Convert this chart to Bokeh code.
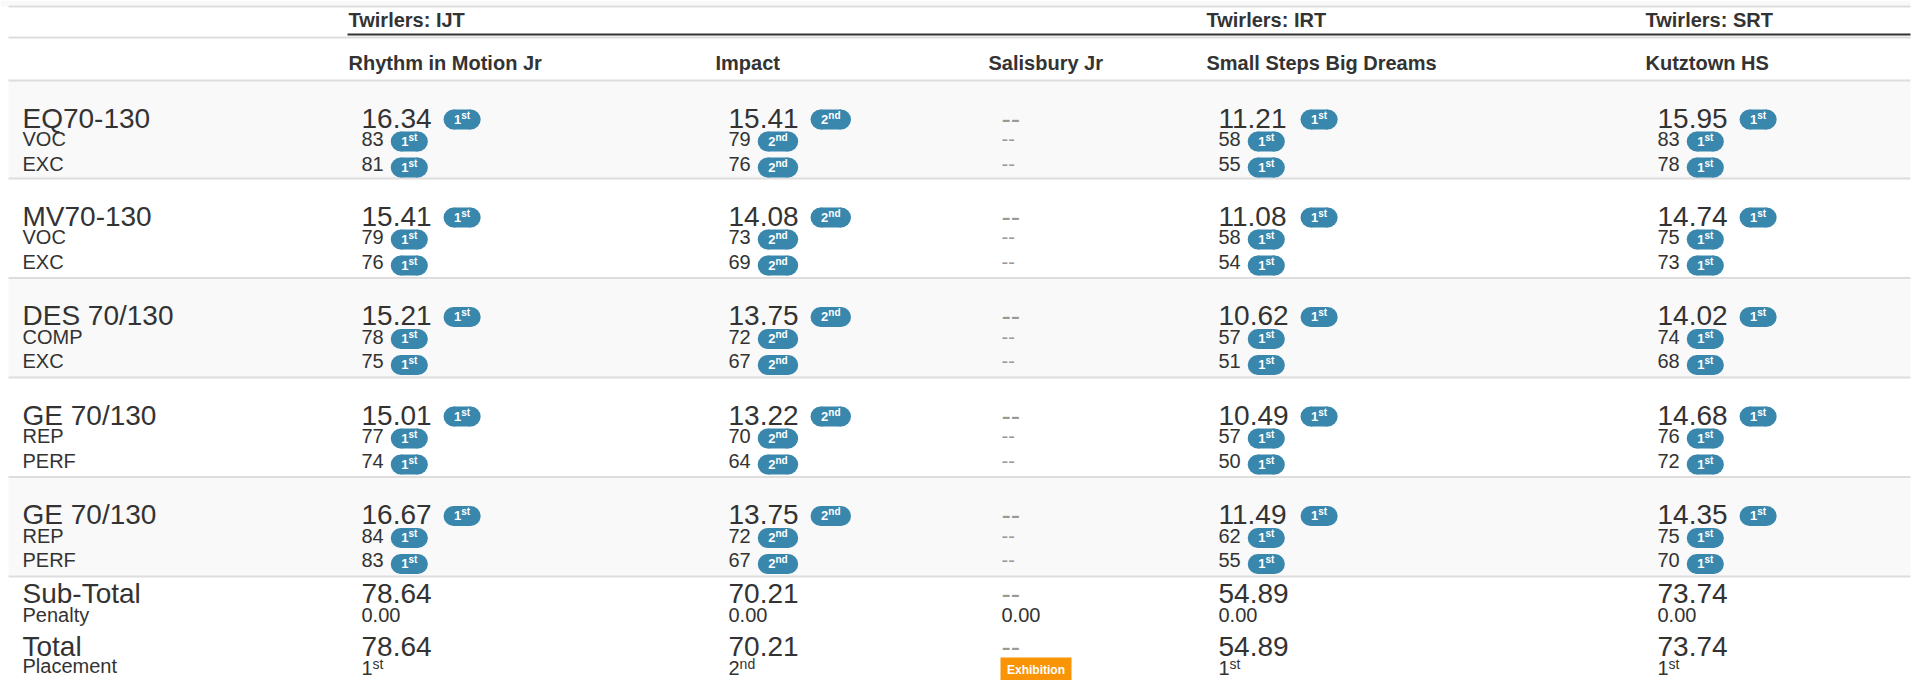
from bokeh.plotting import figure
from bokeh.models import Range1d, ColumnDataSource
from bokeh.core.properties import value
from bokeh.embed import file_html
from bokeh.resources import INLINE

# ---------------- data ----------------
groups = ["Twirlers: IJT", "Twirlers: IRT", "Twirlers: SRT"]
group_first_col = [0, 3, 4]
teams = ["Rhythm in Motion Jr", "Impact", "Salisbury Jr", "Small Steps Big Dreams", "Kutztown HS"]

events = ["EQ70-130", "MV70-130", "DES 70/130", "GE 70/130", "GE 70/130"]
sub1_labels = ["VOC", "VOC", "COMP", "REP", "REP"]
sub2_labels = ["EXC", "EXC", "EXC", "PERF", "PERF"]

event_scores = [
    [16.34, 15.41, None, 11.21, 15.95],
    [15.41, 14.08, None, 11.08, 14.74],
    [15.21, 13.75, None, 10.62, 14.02],
    [15.01, 13.22, None, 10.49, 14.68],
    [16.67, 13.75, None, 11.49, 14.35],
]
event_ranks = [
    [1, 2, None, 1, 1],
    [1, 2, None, 1, 1],
    [1, 2, None, 1, 1],
    [1, 2, None, 1, 1],
    [1, 2, None, 1, 1],
]
sub1_scores = [
    [83, 79, None, 58, 83],
    [79, 73, None, 58, 75],
    [78, 72, None, 57, 74],
    [77, 70, None, 57, 76],
    [84, 72, None, 62, 75],
]
sub1_ranks = [
    [1, 2, None, 1, 1],
    [1, 2, None, 1, 1],
    [1, 2, None, 1, 1],
    [1, 2, None, 1, 1],
    [1, 2, None, 1, 1],
]
sub2_scores = [
    [81, 76, None, 55, 78],
    [76, 69, None, 54, 73],
    [75, 67, None, 51, 68],
    [74, 64, None, 50, 72],
    [83, 67, None, 55, 70],
]
sub2_ranks = [
    [1, 2, None, 1, 1],
    [1, 2, None, 1, 1],
    [1, 2, None, 1, 1],
    [1, 2, None, 1, 1],
    [1, 2, None, 1, 1],
]
subtotal = [78.64, 70.21, None, 54.89, 73.74]
penalty = [0.00, 0.00, 0.00, 0.00, 0.00]
total = [78.64, 70.21, None, 54.89, 73.74]
placement = [1, 2, "Exhibition", 1, 1]

# ---------------- layout / style ----------------
FONT = "Liberation Sans"
DARK = "#333333"
MUTED = "#999999"
LINE = "#dddddd"
BAND = "#f9f9f9"
BADGE = "#3a87ad"
WARN = "#f89406"

W, H = 1915, 680
X0, X1 = 0, W
Y0, Y1 = 0, H
XR = 1910  # right end of rules / bands

col_header_x = [348, 715, 988, 1206, 1645]
col_value_x = [361, 728, 1001, 1218, 1657]
label_x = 22
row_tops = [80, 178, 277.5, 377, 476.5]
rows_end = 576

REG = {c: 0.556 for c in "0123456789"}
REG.update({".": 0.278, "-": 0.333})
BOLD = {c: 0.556 for c in "0123456789"}
BOLD.update({"s": 0.556, "t": 0.333, "n": 0.611, "d": 0.611, "r": 0.389, "h": 0.611})


def tw(s, size, table):
    return sum(table.get(c, 0.556) for c in s) * size


def suffix(n):
    return {1: "st", 2: "nd", 3: "rd"}.get(n, "th")


p = figure(width=W, height=H, output_backend="svg", toolbar_location=None,
           x_range=Range1d(X0, X1), y_range=Range1d(Y1, Y0),
           x_axis_location=None, y_axis_location=None, min_border=0,
           background_fill_color="white", border_fill_color="white")
p.outline_line_color = None
p.grid.visible = False

# top strip (end of previous content)
p.quad(left=[0], right=[XR], top=[0], bottom=[6], fill_color=BAND, line_color=None)

# row bands
band_top, band_bot = [], []
for i, t in enumerate(row_tops):
    if i % 2 == 0:
        band_top.append(t)
        band_bot.append(row_tops[i + 1] if i + 1 < len(row_tops) else rows_end)
p.quad(left=8, right=XR, top=band_top, bottom=band_bot, fill_color=BAND, line_color=None)

# horizontal rules
rule_y = [6, 37, 80] + row_tops[1:] + [rows_end]
p.segment(x0=8, x1=XR, y0=rule_y, y1=rule_y, line_color=LINE, line_width=2)
p.segment(x0=[347], x1=[XR], y0=[34], y1=[34], line_color=DARK, line_width=2)

texts = {}


def add(style, x, y, t):
    texts.setdefault(style, {"x": [], "y": [], "text": []})
    texts[style]["x"].append(x)
    texts[style]["y"].append(y)
    texts[style]["text"].append(t)


badges = []  # (left, ycenter, rank)

# headers
for g, c in zip(groups, group_first_col):
    add("hdr", col_header_x[c], 19.5, g)
for j, tname in enumerate(teams):
    add("hdr", col_header_x[j], 62.5, tname)

# event rows
for i, top in enumerate(row_tops):
    add("big", label_x, top + 37.5, events[i])
    add("small", label_x, top + 58.5, sub1_labels[i])
    add("small", label_x, top + 83, sub2_labels[i])
    for j in range(len(teams)):
        vx = col_value_x[j]
        s = event_scores[i][j]
        if s is None:
            add("bigmuted", vx, top + 37.5, "--")
            add("smallmuted", vx, top + 58.5, "--")
            add("smallmuted", vx, top + 83, "--")
            continue
        st = f"{s:.2f}"
        add("big", vx, top + 37.5, st)
        badges.append((vx + tw(st, 28, REG) + 12, top + 39, event_ranks[i][j]))
        a = str(sub1_scores[i][j])
        add("small", vx, top + 58.5, a)
        badges.append((vx + tw(a, 20, REG) + 7, top + 61, sub1_ranks[i][j]))
        b = str(sub2_scores[i][j])
        add("small", vx, top + 83, b)
        badges.append((vx + tw(b, 20, REG) + 7, top + 87, sub2_ranks[i][j]))

# totals
add("big", label_x, 593.3, "Sub-Total")
add("small", label_x, 614.5, "Penalty")
add("big", label_x, 646, "Total")
add("small", label_x, 665.8, "Placement")
exhib = []
for j in range(len(teams)):
    vx = col_value_x[j]
    if subtotal[j] is None:
        add("bigmuted", vx, 593.3, "--")
    else:
        add("big", vx, 593.3, f"{subtotal[j]:.2f}")
    add("small", vx, 614.5, f"{penalty[j]:.2f}")
    if total[j] is None:
        add("bigmuted", vx, 646, "--")
    else:
        add("big", vx, 646, f"{total[j]:.2f}")
    pl = placement[j]
    if isinstance(pl, int):
        add("small", vx, 667.5, str(pl))
        add("plsup", vx + tw(str(pl), 20, REG), 663, suffix(pl))
    else:
        exhib.append((vx - 1, pl))

# badges
bx, by, bw, cx, cy = [], [], [], [], []
for left, yc, r in badges:
    d = str(r)
    sp = suffix(r)
    w = tw(d, 13, BOLD) + tw(sp, 10, BOLD) + 21
    bx.append(left + w / 2)
    by.append(yc)
    bw.append(w - 20)
    cx += [left + 10, left + w - 10]
    cy += [yc, yc]
    add("bdigit", left + 10.5, yc - 0.5, d)
    add("bsup", left + 10.5 + tw(d, 13, BOLD), yc - 4.5, sp)
p.rect(x=bx, y=by, width=bw, height=20, fill_color=BADGE, line_color=None)
p.circle(x=cx, y=cy, radius=10, fill_color=BADGE, line_color=None)

for left, lab in exhib:
    p.quad(left=[left], right=[left + 71], top=[657], bottom=[684], fill_color=WARN, line_color=None)
    add("exh", left + 35.5, 669.5, lab)

styles = {
    "hdr": dict(size="20px", color=DARK, style="bold", align="left"),
    "big": dict(size="28px", color=DARK, style="normal", align="left"),
    "small": dict(size="20px", color=DARK, style="normal", align="left"),
    "bigmuted": dict(size="28px", color=MUTED, style="normal", align="left"),
    "smallmuted": dict(size="20px", color=MUTED, style="normal", align="left"),
    "plsup": dict(size="14px", color=DARK, style="normal", align="left"),
    "bdigit": dict(size="13px", color="white", style="bold", align="left"),
    "bsup": dict(size="10px", color="white", style="bold", align="left"),
    "exh": dict(size="12px", color="white", style="bold", align="center"),
}
for name, d in texts.items():
    st = styles[name]
    p.text(x="x", y="y", text="text", source=ColumnDataSource(d),
           text_font=value(FONT), text_font_size=st["size"], text_color=st["color"],
           text_font_style=st["style"], text_align=st["align"], text_baseline="alphabetic")

open("out.html", "w").write(file_html(p, INLINE))
